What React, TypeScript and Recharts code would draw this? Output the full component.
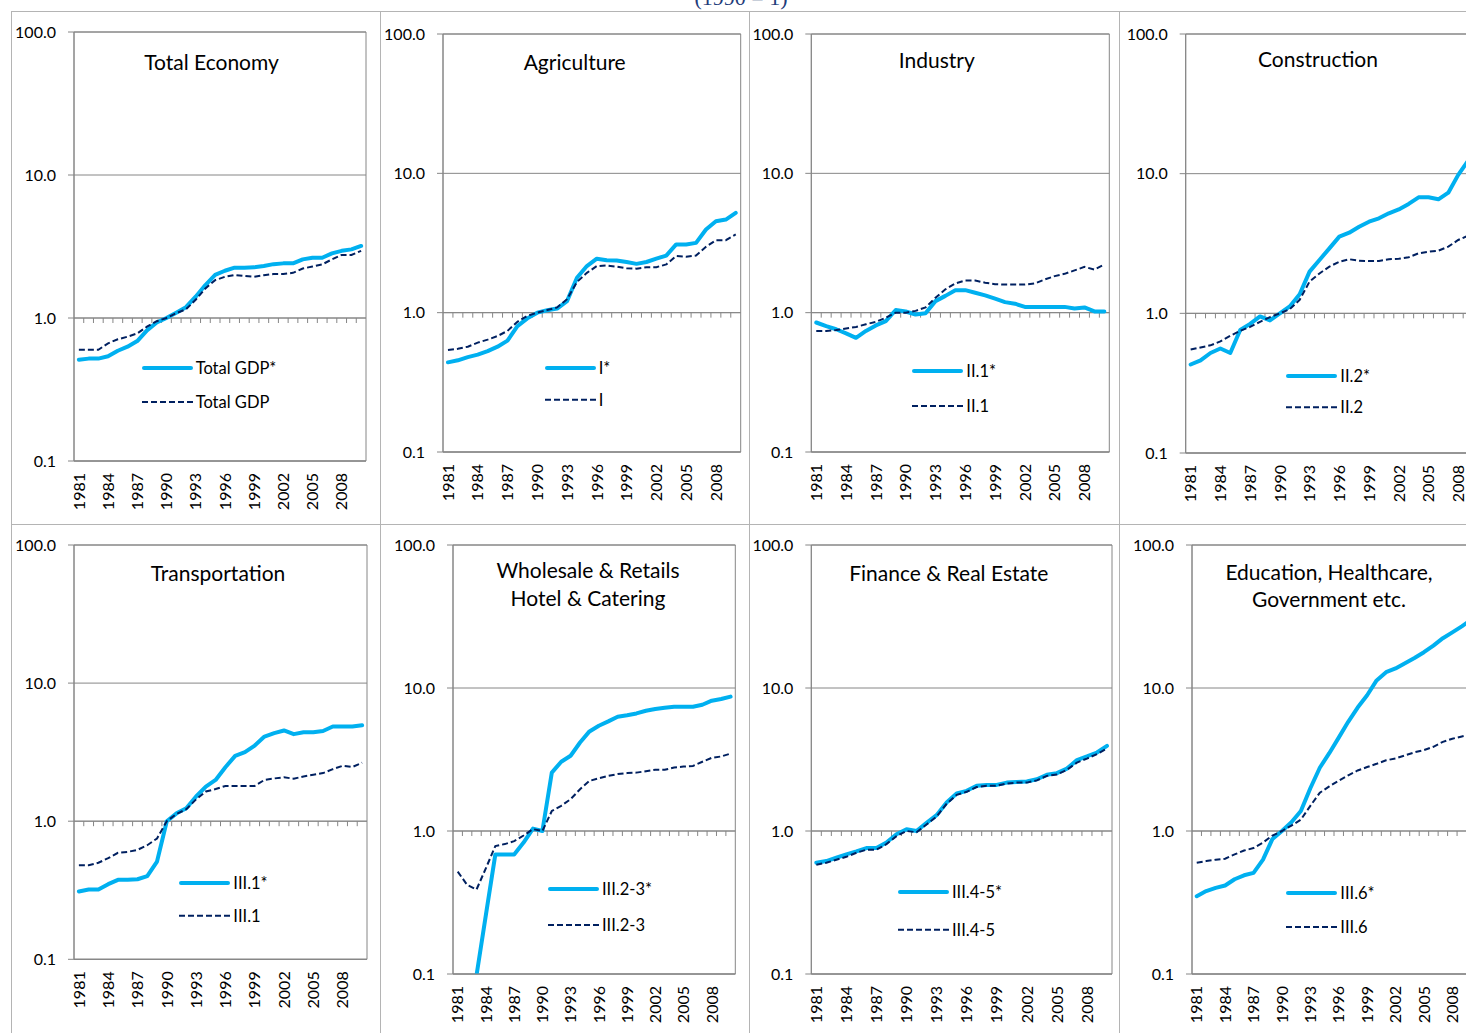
import React from 'react';
import { LineChart, Line, XAxis, YAxis, CartesianGrid, ReferenceLine, ReferenceArea, Legend } from 'recharts';

// ---------- data ----------
const YEARS = [1981,1982,1983,1984,1985,1986,1987,1988,1989,1990,1991,1992,1993,1994,1995,1996,1997,1998,1999,2000,2001,2002,2003,2004,2005,2006,2007,2008,2009,2010];
const YEAR_TICKS = [1981,1984,1987,1990,1993,1996,1999,2002,2005,2008];
const Y_TICKS = [0.1, 1, 10, 100];

const totalGdpStar = [0.51,0.52,0.52,0.54,0.59,0.63,0.69,0.82,0.93,1.0,1.09,1.19,1.41,1.70,2.0,2.14,2.25,2.25,2.26,2.31,2.38,2.41,2.41,2.57,2.64,2.64,2.83,2.95,3.02,3.19];
const totalGdp = [0.60,0.60,0.60,0.665,0.71,0.74,0.78,0.87,0.95,1.0,1.08,1.15,1.34,1.61,1.84,1.94,2.0,1.97,1.94,1.99,2.03,2.03,2.07,2.22,2.29,2.37,2.57,2.76,2.76,2.95];

const agriStar = [0.44,0.455,0.48,0.50,0.53,0.57,0.63,0.80,0.91,1.0,1.04,1.07,1.21,1.78,2.16,2.44,2.38,2.37,2.31,2.24,2.31,2.44,2.57,3.09,3.09,3.17,3.95,4.53,4.66,5.2];
const agri = [0.54,0.55,0.57,0.61,0.64,0.68,0.74,0.86,0.95,1.0,1.045,1.09,1.25,1.66,1.93,2.16,2.18,2.14,2.08,2.07,2.12,2.12,2.22,2.55,2.52,2.57,2.97,3.31,3.31,3.64];

const industryStar = [0.85,0.80,0.76,0.71,0.66,0.74,0.81,0.87,1.045,1.02,0.97,0.99,1.21,1.32,1.45,1.45,1.39,1.33,1.26,1.19,1.16,1.10,1.10,1.10,1.10,1.10,1.07,1.09,1.02,1.02];
const industry = [0.74,0.74,0.75,0.77,0.79,0.825,0.86,0.92,1.0,1.0,1.03,1.09,1.28,1.47,1.62,1.70,1.70,1.64,1.60,1.59,1.59,1.59,1.62,1.73,1.83,1.90,2.01,2.13,2.04,2.22];

const constructionStar = [0.43,0.46,0.52,0.56,0.52,0.76,0.84,0.95,0.89,1.0,1.12,1.37,1.99,2.41,2.92,3.54,3.78,4.17,4.53,4.79,5.2,5.55,6.07,6.77,6.77,6.55,7.31,9.8,12.4,13.0];
const construction = [0.55,0.57,0.59,0.63,0.69,0.75,0.80,0.87,0.94,1.0,1.07,1.25,1.69,1.93,2.16,2.34,2.44,2.38,2.37,2.37,2.44,2.46,2.52,2.69,2.76,2.81,3.0,3.35,3.6,3.75];

const transportStar = [0.31,0.32,0.32,0.35,0.376,0.376,0.38,0.40,0.51,1.0,1.14,1.24,1.51,1.78,1.99,2.46,2.97,3.16,3.53,4.1,4.34,4.54,4.27,4.4,4.4,4.5,4.85,4.85,4.85,4.95];
const transport = [0.48,0.48,0.50,0.54,0.59,0.60,0.62,0.67,0.75,1.0,1.13,1.22,1.44,1.64,1.71,1.80,1.80,1.80,1.80,1.99,2.04,2.08,2.03,2.11,2.17,2.23,2.38,2.52,2.47,2.65];

const wholesaleStar = [null,null,0.098,0.26,0.686,0.686,0.686,0.83,1.04,1.0,2.56,3.05,3.36,4.16,4.97,5.45,5.84,6.3,6.45,6.64,6.93,7.13,7.28,7.4,7.4,7.4,7.64,8.15,8.37,8.7];
const wholesale = [0.52,0.42,0.39,0.55,0.785,0.81,0.85,0.93,1.03,1.0,1.38,1.5,1.67,1.96,2.24,2.34,2.43,2.50,2.54,2.56,2.62,2.68,2.68,2.78,2.82,2.85,3.05,3.25,3.32,3.48];

const financeStar = [0.60,0.616,0.65,0.686,0.72,0.76,0.76,0.83,0.95,1.03,1.0,1.14,1.29,1.58,1.83,1.91,2.07,2.1,2.1,2.18,2.2,2.22,2.3,2.47,2.54,2.73,3.13,3.32,3.54,3.94];
const finance = [0.58,0.60,0.63,0.66,0.705,0.74,0.74,0.81,0.92,1.0,0.98,1.11,1.26,1.55,1.79,1.88,2.03,2.07,2.07,2.15,2.18,2.18,2.26,2.43,2.48,2.68,3.01,3.21,3.45,3.77];

const educationStar = [0.35,0.38,0.40,0.416,0.46,0.49,0.51,0.63,0.88,1.0,1.15,1.38,1.99,2.77,3.5,4.5,5.8,7.3,8.9,11.3,12.9,13.7,14.9,16.2,17.8,19.8,22.3,24.5,27.0,30.0];
const education = [0.60,0.616,0.63,0.64,0.686,0.73,0.76,0.83,0.93,1.0,1.09,1.2,1.5,1.85,2.05,2.25,2.45,2.65,2.8,2.95,3.12,3.22,3.38,3.55,3.68,3.88,4.2,4.42,4.58,4.75];

const TITLES = [
  ['Total Economy'],
  ['Agriculture'],
  ['Industry'],
  ['Construction'],
  ['Transportation'],
  ['Wholesale & Retails', 'Hotel & Catering'],
  ['Finance & Real Estate'],
  ['Education, Healthcare,', 'Government etc.'],
];
const STAR_NAMES = ['Total GDP*', 'I*', 'II.1*', 'II.2*', 'III.1*', 'III.2-3*', 'III.4-5*', 'III.6*'];
const BASE_NAMES = ['Total GDP', 'I', 'II.1', 'II.2', 'III.1', 'III.2-3', 'III.4-5', 'III.6'];
const STAR_SERIES = [totalGdpStar, agriStar, industryStar, constructionStar, transportStar, wholesaleStar, financeStar, educationStar];
const BASE_SERIES = [totalGdp, agri, industry, construction, transport, wholesale, finance, education];

// ---------- layout / style ----------
const FONT = "Lato, 'Liberation Sans', Arial, sans-serif";
const BLUE = '#00B0F0';
const NAVY = '#002060';
const GRID = '#868686';
const FRAME = '#b4b4b4';
const YW = 50;
const XH = 40;

// frame (fx,fy,fw,fh), plot (l,r,t,b), title (cx, baseline, lineGap), legend (x, y, gap)
const LAYOUT = [
  { fx: 11, fy: 11, fw: 369, fh: 513, l: 74, r: 366, t: 32, b: 461, tx: 211.5, ty: 70, lg: 28, lx: 141.7, ly: 368, gap: 34 },
  { fx: 380, fy: 11, fw: 369, fh: 513, l: 443, r: 740.7, t: 34, b: 452, tx: 574.7, ty: 70, lg: 28, lx: 544.7, ly: 368.3, gap: 31.7 },
  { fx: 749, fy: 11, fw: 370, fh: 513, l: 811.3, r: 1109.3, t: 34, b: 452, tx: 936.8, ty: 68.3, lg: 28, lx: 912.3, ly: 371, gap: 35 },
  { fx: 1119, fy: 11, fw: 380, fh: 513, l: 1185.7, r: 1483, t: 34, b: 453, tx: 1318, ty: 66.7, lg: 28, lx: 1286.3, ly: 376, gap: 31.3 },
  { fx: 11, fy: 524, fw: 369, fh: 520, l: 74, r: 367, t: 545, b: 959.3, tx: 218, ty: 581, lg: 28, lx: 179.3, ly: 883.3, gap: 32.7 },
  { fx: 380, fy: 524, fw: 369, fh: 520, l: 453, r: 735.3, t: 545, b: 974, tx: 588, ty: 578.3, lg: 27.7, lx: 548, ly: 889.3, gap: 36 },
  { fx: 749, fy: 524, fw: 370, fh: 520, l: 811.3, r: 1112, t: 545, b: 974, tx: 948.8, ty: 581, lg: 28, lx: 898, ly: 892.3, gap: 37.7 },
  { fx: 1119, fy: 524, fw: 380, fh: 520, l: 1192, r: 1476, t: 545, b: 974, tx: 1329, ty: 580, lg: 27.3, lx: 1286.3, ly: 892.7, gap: 34 },
];

const YearTick = (props: any) => {
  const { x, y, payload } = props;
  return (
    <text x={x} y={y} transform={`rotate(-90 ${x} ${y})`} textAnchor="end" dy="0.36em"
      fontSize={16} fontFamily={FONT} fill="#000">{payload.value}</text>
  );
};

// the 1.0 line with Excel-style minor tick marks between categories
const OneLine = (p: any) => {
  const { x1, y1, x2, y2 } = p;
  if (x1 == null || y1 == null) return null;
  const n = YEARS.length;
  const marks = [];
  for (let i = 1; i < n; i++) {
    const x = x1 + ((x2 - x1) * i) / n;
    marks.push(<line key={i} x1={x} x2={x} y1={y1} y2={y1 + 5} stroke={GRID} strokeWidth={1} />);
  }
  return (
    <g>
      <line x1={x1} y1={y1} x2={x2} y2={y2} stroke={GRID} strokeWidth={1} />
      {marks}
    </g>
  );
};

const makeLegend = (gap: number) => (props: any) => {
  const payload = [...(props.payload || [])].sort((a: any, b: any) =>
    (a.dataKey === 's' ? 0 : 1) - (b.dataKey === 's' ? 0 : 1));
  const len = 51;
  return (
    <div style={{ position: 'relative', width: 150, height: gap + 20, fontFamily: FONT, fontSize: 16.5, color: '#000' }}>
      <svg width={len + 2} height={gap + 20} style={{ position: 'absolute', left: 0, top: 0, overflow: 'visible' }}>
        {payload.map((e: any, i: number) => (
          e.dataKey === 's'
            ? <line key={i} x1={2} x2={len - 2} y1={10 + i * gap} y2={10 + i * gap} stroke={BLUE} strokeWidth={4} strokeLinecap="round" />
            : <line key={i} x1={0} x2={len} y1={10 + i * gap} y2={10 + i * gap} stroke={NAVY} strokeWidth={2} strokeDasharray="6 3" />
        ))}
      </svg>
      {payload.map((e: any, i: number) => (
        <span key={i} style={{ position: 'absolute', left: len + 3, top: i * gap, lineHeight: '20px', whiteSpace: 'nowrap' }}>{e.value}</span>
      ))}
    </div>
  );
};

function Panel({ idx }: { idx: number }) {
  const c = LAYOUT[idx];
  const star = STAR_SERIES[idx];
  const base = BASE_SERIES[idx];
  const data = YEARS.map((y, i) => ({ year: y, s: star[i], b: base[i] }));
  const margin = {
    top: c.t - c.fy,
    left: c.l - c.fx - YW,
    right: c.fw - (c.r - c.fx),
    bottom: c.fh - (c.b - c.fy) - XH,
  };
  return (
    <div style={{ position: 'absolute', left: c.fx, top: c.fy, width: c.fw, height: c.fh }}>
      <LineChart width={c.fw} height={c.fh} data={data} margin={margin}>
        <CartesianGrid vertical={false} stroke={GRID} strokeWidth={1} />
        <ReferenceArea y1={0.1} y2={100} fill="none" fillOpacity={0} stroke={GRID} strokeWidth={1} />
        <XAxis dataKey="year" type="number" domain={[YEARS[0] - 0.5, YEARS[YEARS.length - 1] + 0.5]}
          ticks={YEAR_TICKS} interval={0} height={XH}
          tickLine={false} tickSize={0} tickMargin={12} axisLine={{ stroke: GRID }} tick={<YearTick />} />
        <YAxis type="number" scale="log" domain={[0.1, 100]} ticks={Y_TICKS} allowDataOverflow width={YW}
          interval={0} tickFormatter={(v: number) => v.toFixed(1)} tickSize={6} tickMargin={12}
          axisLine={{ stroke: GRID }} tickLine={{ stroke: GRID }}
          tick={{ fontSize: 16, fill: '#000', fontFamily: FONT }} />
        <ReferenceLine y={1} shape={OneLine} />
        <Line type="linear" dataKey="s" name={STAR_NAMES[idx]} stroke={BLUE} strokeWidth={4} dot={false} activeDot={false}
          strokeLinejoin="round" strokeLinecap="round" isAnimationActive={false} />
        <Line type="linear" dataKey="b" name={BASE_NAMES[idx]} stroke={NAVY} strokeWidth={2} strokeDasharray="6 3" dot={false}
          activeDot={false} isAnimationActive={false} />
        <Legend layout="vertical" align="center" verticalAlign="middle" content={makeLegend(c.gap)}
          wrapperStyle={{ left: c.lx - c.fx, top: c.ly - 10 - c.fy, width: 150 }} />
      </LineChart>
    </div>
  );
}

export default function App() {
  return (
    <div style={{ position: 'absolute', left: 0, top: 0, width: 1466, height: 1033, overflow: 'hidden', background: '#fff' }}>
      {LAYOUT.map((_, i) => <Panel key={i} idx={i} />)}
      <svg width={1466} height={1033} style={{ position: 'absolute', left: 0, top: 0, pointerEvents: 'none' }}>
        <text x={741} y={5} textAnchor="middle" fontFamily="'Liberation Serif', 'DejaVu Serif', serif" fontSize={22} fill="#1F3C7A">(1990 = 1)</text>
        <line x1={11} x2={1466} y1={11.5} y2={11.5} stroke={FRAME} />
        <line x1={11} x2={1466} y1={524.5} y2={524.5} stroke={FRAME} />
        {[11, 380, 749, 1119].map((x) => (
          <line key={x} x1={x + 0.5} x2={x + 0.5} y1={11} y2={1033} stroke={FRAME} />
        ))}
        {LAYOUT.map((c, i) => (
          <text key={i} textAnchor="middle" fontFamily={FONT} fontSize={21} fill="#000">
            {TITLES[i].map((s, j) => (
              <tspan key={j} x={c.tx} y={c.ty + j * c.lg}>{s}</tspan>
            ))}
          </text>
        ))}
      </svg>
    </div>
  );
}
